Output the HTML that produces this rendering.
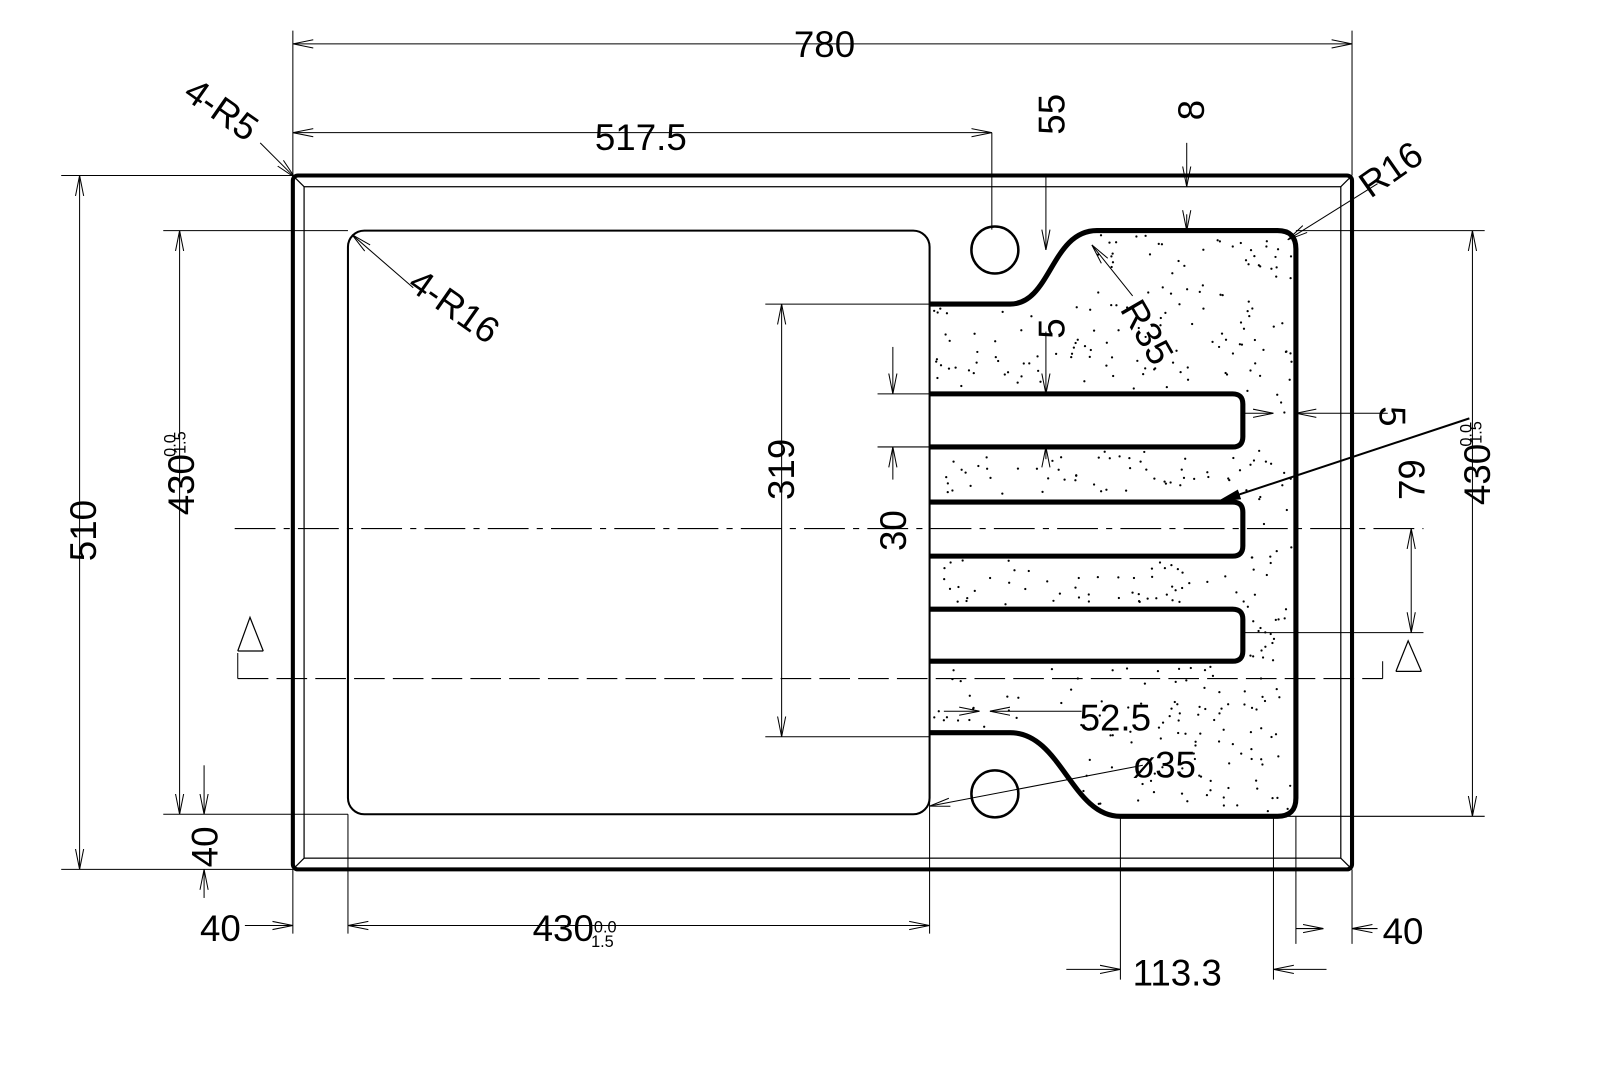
<!DOCTYPE html>
<html><head><meta charset="utf-8"><style>
html,body{margin:0;padding:0;background:#fff;}
svg{display:block;}
text{font-family:"Liberation Sans",sans-serif;fill:#000;}
</style></head><body>
<svg id="s" width="1600" height="1088" viewBox="0 0 1600 1088" xmlns="http://www.w3.org/2000/svg">
<defs>
<marker id="a" viewBox="0 0 20 10" refX="20" refY="5" markerWidth="20" markerHeight="10" markerUnits="userSpaceOnUse" orient="auto-start-reverse">
<path d="M0,1 L20,5 L0,9" fill="none" stroke="#000" stroke-width="1"/></marker>
<marker id="b" viewBox="0 0 24 12" refX="24" refY="6" markerWidth="24" markerHeight="12" markerUnits="userSpaceOnUse" orient="auto">
<path d="M0,1 L24,6 L0,11 z" fill="#000"/></marker>
</defs>
<g transform="scale(1.0204)">
<g fill="none" stroke="#000">
<rect x="287" y="172" width="1038" height="680" rx="5" stroke-width="4"/>
<rect x="298" y="183" width="1016" height="658" stroke-width="1.2"/>
<path d="M289,174 L298,183 M1323,174 L1314,183 M289,850 L298,841 M1323,850 L1314,841" stroke-width="1.2"/>
<rect x="341" y="226" width="570" height="572" rx="16" stroke-width="2"/>
<path id="dr" d="M911,298 L990,298 C1030,298 1030,226 1075,226 L1252,226 Q1270,226 1270,244 L1270,782 Q1270,800 1252,800 L1098,800 C1050,800 1040,718 990,718 L911,718" stroke-width="5"/>
<path d="M911,386 L1208,386 Q1218,386 1218,396 L1218,428 Q1218,438 1208,438 L911,438" stroke-width="5"/>
<path d="M911,492 L1208,492 Q1218,492 1218,502 L1218,535 Q1218,545 1208,545 L911,545" stroke-width="5"/>
<path d="M911,597 L1208,597 Q1218,597 1218,607 L1218,638 Q1218,648 1208,648 L911,648" stroke-width="5"/>
<circle cx="975" cy="245" r="23" stroke-width="2.5"/>
<circle cx="975" cy="778" r="23" stroke-width="2.5"/>
<path d="M230,518 L1395,518" stroke-width="1" stroke-dasharray="40,8,6,8"/>
<path d="M233,665 L1355,665" stroke-width="1" stroke-dasharray="30,8"/>
<path d="M233,640 L233,665 M1355,648 L1355,665" stroke-width="1"/>
<path d="M233,638 L245,605 L258,638 M233,638 L258,638" stroke-width="1.2"/>
<path d="M1368,658 L1380,628 L1393,658 M1368,658 L1393,658" stroke-width="1.2"/>
<g stroke-width="1">
<path d="M287,30 L287,172 M1325,30 L1325,172 M972,130 L972,225"/>
<path d="M60,172 L287,172 M60,852 L287,852 M160,226 L341,226 M160,798 L341,798"/>
<path d="M1270,226 L1455,226 M1255,800 L1455,800"/>
<path d="M287,852 L287,915 M341,798 L341,915 M911,718 L911,915 M1325,852 L1325,925 M1270,800 L1270,925"/>
<path d="M1098,800 L1098,960 M1248,800 L1248,960"/>
<path d="M750,298 L911,298 M750,722 L911,722"/>
<path d="M860,386 L911,386 M860,438 L911,438"/>
<path d="M1218,620 L1395,620"/>
</g>
<g stroke-width="1" marker-end="url(#a)" marker-start="url(#a)">
<path d="M287,43 L1325,43"/>
<path d="M287,130 L972,130"/>
<path d="M78,172 L78,852"/>
<path d="M176,226 L176,798"/>
<path d="M1443,226 L1443,800"/>
<path d="M341,907 L911,907"/>
<path d="M766,298 L766,722"/>
<path d="M1383,518 L1383,620"/>
</g>
<g stroke-width="1" marker-end="url(#a)">
<path d="M1025,170 L1025,245"/>
<path d="M1025,325 L1025,386"/>
<path d="M1025,450 L1025,438"/>
<path d="M1163,140 L1163,183"/>
<path d="M1163,210 L1163,226"/>
<path d="M875,340 L875,386"/>
<path d="M875,470 L875,438"/>
<path d="M200,750 L200,798"/>
<path d="M200,880 L200,852"/>
<path d="M240,907 L287,907"/>
<path d="M1350,910 L1325,910"/>
<path d="M1270,910 L1297,910"/>
<path d="M1045,950 L1098,950"/>
<path d="M1300,950 L1248,950"/>
<path d="M1360,405 L1270,405"/>
<path d="M1218,405 L1248,405"/>
<path d="M925,697 L960,697"/>
<path d="M1060,697 L970,697"/>
<path d="M1120,750 L911,790"/>
<path d="M255,140 L289,174"/>
<path d="M405,282 L345,230"/>
<path d="M1110,290 L1070,240"/>
<path d="M1350,180 L1262,235"/>
</g>
<path d="M1440,410 L1192,492" stroke-width="2" marker-end="url(#b)"/>
</g>
<g id="dots" fill="#000"></g>
<g font-size="36">
<text x="778" y="56">780</text>
<text x="583" y="147">517.5</text>
<text x="1058" y="716">52.5</text>
<text x="1110" y="762">ø35</text>
<text x="196" y="922">40</text>
<text x="1355" y="925">40</text>
<text x="1110" y="966">113.3</text>
<text x="522" y="922">430<tspan font-size="16" dy="-8">0.0</tspan><tspan font-size="16" dx="-25" dy="14">1.5</tspan></text>
<text transform="translate(94,550) rotate(-90)">510</text>
<text transform="translate(190,505) rotate(-90)">430<tspan font-size="16" dy="-8">1.5</tspan><tspan font-size="16" dx="-25" dy="-10">0.0</tspan></text>
<text transform="translate(1460,495) rotate(-90)">430<tspan font-size="16" dy="-8">1.5</tspan><tspan font-size="16" dx="-25" dy="-10">0.0</tspan></text>
<text transform="translate(778,490) rotate(-90)">319</text>
<text transform="translate(888,540) rotate(-90)">30</text>
<text transform="translate(1396,490) rotate(-90)">79</text>
<text transform="translate(1043,132) rotate(-90)">55</text>
<text transform="translate(1180,118) rotate(-90)">8</text>
<text transform="translate(1043,332) rotate(-90)">5</text>
<text transform="translate(213,850) rotate(-90)">40</text>
<text transform="translate(1352,398) rotate(90)">5</text>
<text transform="translate(178,95) rotate(35)">4-R5</text>
<text transform="translate(398,282) rotate(35)">4-R16</text>
<text transform="translate(1097,303) rotate(60)">R35</text>
<text transform="translate(1343,195) rotate(-35)">R16</text>
</g>
</g>
</svg>
<script>
var g=document.getElementById('dots'),seed=7;
function r(){seed=(seed*16807)%2147483647;return seed/2147483647;}
var n=0,t=0;
while(n<420&&t<5000){t++;var x=915+r()*352,y=230+r()*566;
 if(y<300&&x<1070)continue;
 if(y>715&&x<1060)continue;
 if(x<1222&&((y>382&&y<442)||(y>488&&y<549)||(y>593&&y<652)))continue;
 var c=document.createElementNS('http://www.w3.org/2000/svg','circle');
 c.setAttribute('cx',x.toFixed(1));c.setAttribute('cy',y.toFixed(1));c.setAttribute('r','1.1');g.appendChild(c);n++;}
</script>
</body></html>
